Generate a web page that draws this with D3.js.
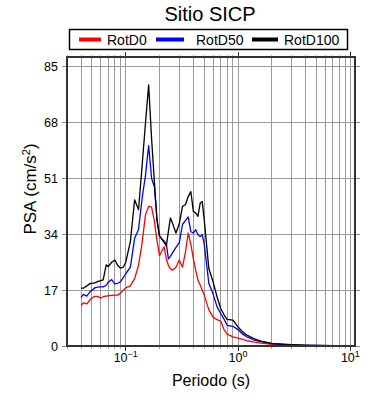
<!DOCTYPE html>
<html>
<head>
<meta charset="utf-8">
<script src="https://cdn.jsdelivr.net/npm/d3@7"></script>
<style>
  body { margin: 0; background: #fff; }
  svg text { font-family: "Liberation Sans", Arial, Helvetica, sans-serif; fill: #000; }
</style>
</head>
<body>
<svg id="chart" width="390" height="400"></svg>
<script>
const periods = [0.040,0.042,0.045,0.048,0.050,0.053,0.056,0.060,0.063,0.067,0.070,0.075,0.080,0.085,0.090,0.095,
  0.100,0.110,0.120,0.130,0.140,0.150,0.160,0.170,0.180,0.190,0.200,0.210,0.220,0.230,0.240,0.250,0.260,0.280,
  0.300,0.320,0.340,0.360,0.380,0.400,0.420,0.440,0.460,0.480,0.500,0.550,0.600,0.650,0.700,0.750,0.800,0.900,
  1.000,1.100,1.200,1.400,1.600,2.000,2.500,3.000,4.000,5.000,7.000,10.00];

const rotD0 = [12.4,13.1,12.8,14.0,14.6,15.1,15.1,14.6,15.0,15.2,15.3,15.4,15.5,15.5,16.1,17.0,
  17.7,18.3,20.5,24.5,31.5,40.0,42.5,42.3,38.0,32.0,27.5,29.0,30.2,26.5,24.5,23.5,23.1,24.0,
  26.2,24.0,28.5,34.4,31.0,26.5,23.0,20.0,18.6,17.0,15.5,11.0,8.8,8.0,7.6,5.0,3.6,2.8,
  2.4,2.0,1.6,1.2,0.9,0.5,0.3,0.2,0.12,0.08,0.05,0.03];

const rotD50 = [14.8,15.7,15.2,16.5,17.0,17.7,17.9,18.0,18.0,18.5,19.5,20.2,18.9,19.1,19.6,20.8,
  22.0,24.0,32.8,35.5,45.0,52.0,61.0,51.0,48.5,38.5,33.5,32.6,32.0,31.0,26.5,27.3,28.3,30.0,
  31.5,37.0,38.2,39.3,34.8,34.4,35.4,33.9,33.3,33.9,31.0,19.0,15.8,12.0,9.9,8.2,6.3,6.0,
  5.0,3.6,2.8,1.8,1.3,0.7,0.45,0.3,0.2,0.15,0.1,0.07];

const rotD100 = [17.6,17.6,18.3,19.0,19.1,19.2,19.6,19.9,20.1,24.7,24.2,25.5,26.2,24.5,23.7,24.0,
  25.5,31.8,44.5,41.5,55.0,68.0,79.5,63.0,50.0,38.0,33.5,32.5,31.5,30.5,35.0,39.0,37.5,34.4,
  37.2,42.5,43.0,45.5,47.0,41.0,40.5,39.5,43.5,44.0,38.4,23.5,19.5,15.0,11.5,9.5,8.1,7.9,
  5.8,4.3,3.3,2.2,1.5,0.8,0.55,0.4,0.25,0.2,0.12,0.08];

const seriesNames = ["RotD0", "RotD50", "RotD100"];
const seriesColors = ["#ff0000", "#0000ff", "#000000"];
const yTicks = [0, 17, 34, 51, 68, 85];
const xMajor = [0.1, 1, 10];
const xMajorExp = ["\u22121", "0", "1"];

const svg = d3.select("#chart");
const L = 67, R = 355, T = 57, B = 346;
const x = d3.scaleLog().domain([0.03, 11]).range([L, R]);
const y = d3.scaleLinear().domain([0, 88]).range([B, T]);

svg.append("defs").append("clipPath").attr("id", "clip")
  .append("rect").attr("x", L).attr("y", T).attr("width", R - L).attr("height", B - T);

// grid
const minor = x.ticks().filter(v => x(v) > L + 0.5 && x(v) < R - 0.5);
svg.append("g").selectAll("line").data(minor).join("line")
  .attr("x1", d => x(d)).attr("x2", d => x(d)).attr("y1", T).attr("y2", B)
  .attr("stroke", "#9a9a9a").attr("stroke-width", 1).attr("shape-rendering", "crispEdges");
svg.append("g").selectAll("line").data(yTicks.filter(v => v > 0)).join("line")
  .attr("x1", L).attr("x2", R).attr("y1", d => y(d)).attr("y2", d => y(d))
  .attr("stroke", "#9a9a9a").attr("stroke-width", 1).attr("shape-rendering", "crispEdges");

// ticks outward
const allX = x.ticks();
const tg = svg.append("g").attr("stroke", "#888").attr("stroke-width", 1).attr("shape-rendering", "crispEdges");
allX.forEach(v => {
  const major = xMajor.includes(v);
  const len = major ? 5 : 2.5;
  tg.append("line").attr("x1", x(v)).attr("x2", x(v)).attr("y1", B).attr("y2", B + len)
    .attr("stroke", major ? "#333" : "#aaa");
  tg.append("line").attr("x1", x(v)).attr("x2", x(v)).attr("y1", T).attr("y2", T - len)
    .attr("stroke", major ? "#333" : "#aaa");
});
yTicks.forEach(v => {
  tg.append("line").attr("x1", L - 5).attr("x2", L).attr("y1", y(v)).attr("y2", y(v));
  tg.append("line").attr("x1", R).attr("x2", R + 5).attr("y1", y(v)).attr("y2", y(v));
});

// curves
const line = d3.line().x((d, i) => x(periods[i])).y(d => y(d));
const g = svg.append("g").attr("clip-path", "url(#clip)");
[rotD0, rotD50, rotD100].forEach((s, k) => {
  g.append("path").datum(s).attr("d", line).attr("fill", "none")
    .attr("stroke", seriesColors[k]).attr("stroke-width", 1.3).attr("stroke-linejoin", "round");
});

// frame
svg.append("rect").attr("x", L).attr("y", T).attr("width", R - L).attr("height", B - T)
  .attr("fill", "none").attr("stroke", "#333").attr("stroke-width", 2);

// y tick labels
svg.append("g").selectAll("text").data(yTicks).join("text")
  .attr("x", L - 9).attr("y", d => y(d)).attr("dy", "0.36em")
  .attr("text-anchor", "end").attr("font-size", 12.5).text(d => d);

// x tick labels
xMajor.forEach((v, i) => {
  const t = svg.append("text").attr("x", x(v)).attr("y", 362)
    .attr("text-anchor", "middle").attr("font-size", 12.5);
  t.append("tspan").text("10");
  t.append("tspan").attr("dy", -5).attr("font-size", 9).text(xMajorExp[i]);
});

// axis titles
svg.append("text").attr("x", (L + R) / 2).attr("y", 386).attr("text-anchor", "middle")
  .attr("font-size", 16).text("Periodo (s)");
const yl = svg.append("text").attr("transform", "translate(36,189) rotate(-90)")
  .attr("text-anchor", "middle").attr("font-size", 17);
yl.append("tspan").text("PSA (cm/s");
yl.append("tspan").attr("dy", -6).attr("font-size", 11).text("2");
yl.append("tspan").attr("dy", 6).text(")");

// title
svg.append("text").attr("x", 210).attr("y", 21).attr("text-anchor", "middle")
  .attr("font-size", 20).text("Sitio SICP");

// legend
svg.append("rect").attr("x", 69.5).attr("y", 29.5).attr("width", 278).attr("height", 20)
  .attr("fill", "#fff").attr("stroke", "#000").attr("stroke-width", 1.5);
const legX = [{l1: 79, l2: 101, tx: 107}, {l1: 156, l2: 184, tx: 196}, {l1: 252, l2: 278, tx: 284}];
seriesNames.forEach((n, i) => {
  svg.append("line").attr("x1", legX[i].l1).attr("x2", legX[i].l2).attr("y1", 39.5).attr("y2", 39.5)
    .attr("stroke", seriesColors[i]).attr("stroke-width", 4);
  svg.append("text").attr("x", legX[i].tx).attr("y", 44.5).attr("font-size", 14).text(n);
});
</script>
</body>
</html>
